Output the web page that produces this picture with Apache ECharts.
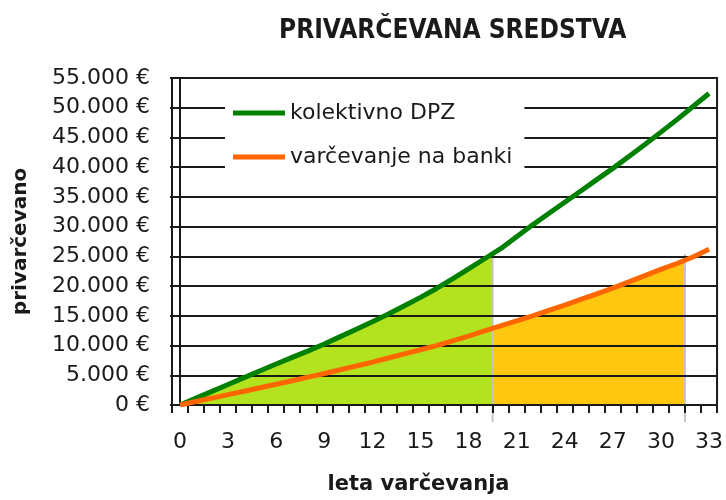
<!DOCTYPE html>
<html>
<head>
<meta charset="utf-8">
<script src="https://cdn.jsdelivr.net/npm/echarts@6/dist/echarts.min.js"></script>
<style>html,body{margin:0;padding:0;background:#fff}#c{width:726px;height:500px}</style>
</head>
<body>
<div id="c"></div>
<script>
const years = ['0','1','2','3','4','5','6','7','8','9','10','11','12','13','14','15','16','17','18','19','20','21','22','23','24','25','26','27','28','29','30','31','32','33'];
const kolektivnoDPZ = [0,1150,2300,3450,4600,5750,6900,8000,9100,10250,11500,12750,14000,15300,16700,18100,19600,21200,22900,24600,26300,28300,30300,32200,34100,36000,37900,39800,41800,43800,45900,48000,50200,52400];
const varcevanjeBanka = [0,580,1160,1740,2320,2900,3480,4080,4690,5300,5920,6560,7220,7900,8600,9300,10000,10800,11600,12450,13300,14150,15000,15900,16800,17750,18700,19650,20700,21750,22800,23800,24900,26200];
const seriesNames = ['kolektivno DPZ', 'varčevanje na banki'];
const dividerYears = [19.5, 31.5];
const dividerTop = 25400;
const yTicks = {min: 0, max: 55000, step: 5000};

const fmt = v => String(v).replace(/\B(?=(\d{3})+(?!\d))/g, '.') + ' €';
const pairs = arr => arr.map((v, i) => [i, v]);

const chart = echarts.init(document.getElementById('c'), null, {renderer: 'canvas'});
chart.setOption({
  animation: false,
  backgroundColor: '#fff',
  textStyle: {fontFamily: 'DejaVu Sans'},
  title: {
    text: 'PRIVARČEVANA SREDSTVA',
    left: 274, top: 13,
    textStyle: {fontFamily: 'DejaVu Sans Condensed', fontWeight: 'bold', fontSize: 26, color: '#1a1a1a'}
  },
  grid: {left: 172, right: 8, top: 78, bottom: 94, show: true, borderColor: '#1a1a1a', borderWidth: 2, backgroundColor: 'transparent'},
  legend: {
    data: seriesNames,
    orient: 'vertical',
    left: 225, top: 88,
    padding: [14, 12, 14, 8],
    itemGap: 22,
    itemWidth: 52, itemHeight: 5,
    icon: 'rect',
    backgroundColor: '#fff',
    z: 10,
    textStyle: {fontFamily: 'DejaVu Sans', fontSize: 22, color: '#1a1a1a'}
  },
  visualMap: [
    {show: false, type: 'piecewise', seriesIndex: 0, dimension: 0,
     pieces: [{min: -1, max: dividerYears[0], color: '#b3e21f'}, {min: dividerYears[0], max: 40, color: 'rgba(0,0,0,0)'}]},
    {show: false, type: 'piecewise', seriesIndex: 1, dimension: 0,
     pieces: [{min: -1, max: dividerYears[0], color: 'rgba(0,0,0,0)'}, {min: dividerYears[0], max: dividerYears[1], color: '#ffc710'}, {min: dividerYears[1], max: 40, color: 'rgba(0,0,0,0)'}]}
  ],
  xAxis: [{
    type: 'category',
    data: years,
    boundaryGap: true,
    axisLine: {lineStyle: {color: '#1a1a1a', width: 2}},
    axisTick: {show: true, interval: 0, length: 8, lineStyle: {color: '#1a1a1a', width: 2}},
    axisLabel: {interval: 2, margin: 26, fontSize: 22, color: '#1a1a1a', fontFamily: 'DejaVu Sans'},
    splitLine: {show: false},
    name: 'leta varčevanja',
    nameLocation: 'middle',
    nameGap: 69,
    nameTextStyle: {fontFamily: 'DejaVu Sans', fontWeight: 'bold', fontSize: 21, color: '#1a1a1a', padding: [0, 52, 0, 0]},
    z: 3
  }, {
    type: 'value', min: -0.5, max: 33.5, show: false
  }],
  yAxis: {
    type: 'value',
    min: yTicks.min, max: yTicks.max, interval: yTicks.step,
    axisLine: {show: true, lineStyle: {color: '#1a1a1a', width: 2}},
    axisTick: {show: true, length: 10, lineStyle: {color: '#1a1a1a', width: 2}},
    axisLabel: {margin: 22, fontSize: 22, color: '#1a1a1a', fontFamily: 'DejaVu Sans', formatter: fmt},
    splitLine: {show: true, lineStyle: {color: '#1a1a1a', width: 2}},
    name: 'privarčevano',
    nameLocation: 'middle',
    nameRotate: 90,
    nameGap: 141,
    nameTextStyle: {fontFamily: 'DejaVu Sans', fontWeight: 'bold', fontSize: 20, color: '#1a1a1a'},
    z: 3
  },
  series: [
    {name: 'area-dpz', type: 'line', xAxisIndex: 1, data: pairs(kolektivnoDPZ), showSymbol: false, symbol: 'none',
     lineStyle: {width: 0, opacity: 0}, areaStyle: {opacity: 1}, z: 1, silent: true},
    {name: 'area-banka', type: 'line', xAxisIndex: 1, data: pairs(varcevanjeBanka), showSymbol: false, symbol: 'none',
     lineStyle: {width: 0, opacity: 0}, areaStyle: {opacity: 1}, z: 1, silent: true},
    {name: 'dividers', type: 'custom', xAxisIndex: 1, data: dividerYears.map(x => [x, dividerTop]), z: 2, silent: true,
     renderItem: (params, api) => {
       const top = api.coord([api.value(0), api.value(1)]);
       const bot = api.coord([api.value(0), 0]);
       return {type: 'line', shape: {x1: top[0], y1: top[1], x2: bot[0], y2: bot[1] + 17}, style: {stroke: '#c4c4c4', lineWidth: 2}};
     }},
    {name: seriesNames[0], type: 'line', data: kolektivnoDPZ, showSymbol: false, symbol: 'none', color: '#008000',
     lineStyle: {width: 5, color: '#008000'}, z: 5},
    {name: seriesNames[1], type: 'line', data: varcevanjeBanka, showSymbol: false, symbol: 'none', color: '#ff6600',
     lineStyle: {width: 5, color: '#ff6600'}, z: 5}
  ]
});
</script>
</body>
</html>
